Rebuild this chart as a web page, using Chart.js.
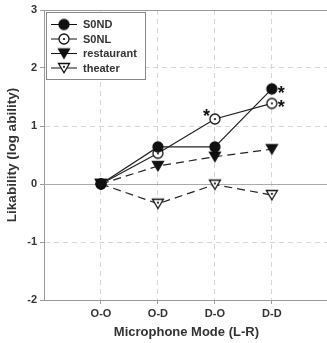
<!DOCTYPE html>
<html>
<head>
<meta charset="utf-8">
<script src="https://cdn.jsdelivr.net/npm/chart.js@4.4.0/dist/chart.umd.min.js"></script>
<style>
  html, body { margin: 0; padding: 0; background: #fff; overflow: hidden; }
  #wrap { width: 334px; height: 343px; }
</style>
</head>
<body>
<div id="wrap"><canvas id="chart" width="334" height="343"></canvas></div>
<script>
// --- data ---
const modes = ['O-O', 'O-D', 'D-O', 'D-D'];
const s0nd = [0, 0.64, 0.64, 1.64];
const s0nl = [0, 0.53, 1.12, 1.39];
const restaurant = [0, 0.31, 0.47, 0.60];
const theater = [0, -0.34, -0.01, -0.19];
const yTicks = [-2, -1, 0, 1, 2, 3];
// significance stars: [dataset, point, side]
const stars = [[1, 2, 'left'], [0, 3, 'right'], [1, 3, 'right']];

const INK = '#111';

// point markers as small canvases (dotted ones have a centre dot)
function marker(shape, filled, dot) {
    const c = document.createElement('canvas');
    c.width = 14; c.height = 14;
    const g = c.getContext('2d');
    g.fillStyle = filled ? INK : '#fff';
    g.strokeStyle = INK;
    g.lineWidth = 1.3;
    g.beginPath();
    if (shape === 'circle') {
        g.arc(7, 7, 5, 0, Math.PI * 2);
    } else {
        g.moveTo(1.5, 2.5); g.lineTo(12.5, 2.5); g.lineTo(7, 11.8); g.closePath();
    }
    g.fill(); g.stroke();
    if (dot) {
        g.fillStyle = INK;
        g.beginPath();
        g.arc(7, shape === 'circle' ? 7 : 5.8, 1.1, 0, Math.PI * 2);
        g.fill();
    }
    return c;
}

const series = [
    { label: 'S0ND', values: s0nd, mk: marker('circle', true, false), dash: [] },
    { label: 'S0NL', values: s0nl, mk: marker('circle', false, true), dash: [] },
    { label: 'restaurant', values: restaurant, mk: marker('tri', true, false), dash: [8, 5] },
    { label: 'theater', values: theater, mk: marker('tri', false, true), dash: [8, 5] },
];

// --- helpers drawn on top of the library's scales ---
const framePlugin = {
    id: 'frame',
    beforeDatasetsDraw(chart) {
        const { ctx, chartArea: a, scales: { y } } = chart;
        ctx.save();
        ctx.strokeStyle = '#aaa';
        ctx.lineWidth = 1;
        ctx.beginPath();
        const y0 = Math.round(y.getPixelForValue(0)) + 0.5;
        ctx.moveTo(a.left, y0); ctx.lineTo(a.right, y0);
        ctx.stroke();
        ctx.strokeStyle = '#999';
        ctx.beginPath();
        ctx.moveTo(a.left, a.top + 0.5); ctx.lineTo(a.right, a.top + 0.5);
        ctx.stroke();
        ctx.restore();
    }
};

const starPlugin = {
    id: 'stars',
    afterDatasetsDraw(chart) {
        const ctx = chart.ctx;
        ctx.save();
        ctx.font = 'bold 18px "Liberation Sans", Arial, sans-serif';
        ctx.fillStyle = INK;
        ctx.textBaseline = 'middle';
        stars.forEach(([d, p, side]) => {
            const pt = chart.getDatasetMeta(d).data[p];
            if (side === 'right') {
                ctx.textAlign = 'left';
                ctx.fillText('*', pt.x + 6, pt.y + 5);
            } else {
                ctx.textAlign = 'right';
                ctx.fillText('*', pt.x - 5, pt.y - 2);
            }
        });
        ctx.restore();
    }
};

const legendPlugin = {
    id: 'boxLegend',
    afterDraw(chart) {
        const ctx = chart.ctx;
        const a = chart.chartArea;
        const bx = a.left + 2, by = a.top + 2, bw = 99, bh = 67;
        ctx.save();
        ctx.fillStyle = '#fff';
        ctx.fillRect(bx, by, bw, bh);
        ctx.strokeStyle = '#888';
        ctx.lineWidth = 1;
        ctx.strokeRect(bx + 0.5, by + 0.5, bw, bh);
        ctx.font = 'bold 11px "Liberation Sans", Arial, sans-serif';
        ctx.textBaseline = 'middle';
        ctx.textAlign = 'left';
        series.forEach((s, i) => {
            const ry = by + 12.5 + i * 14.5;
            ctx.strokeStyle = INK;
            ctx.beginPath();
            ctx.moveTo(bx + 5, ry); ctx.lineTo(bx + 31, ry);
            ctx.stroke();
            ctx.drawImage(s.mk, bx + 18 - 7, ry - 7);
            ctx.fillStyle = '#333';
            ctx.fillText(s.label, bx + 37, ry + 0.5);
        });
        ctx.restore();
    }
};

Chart.defaults.font.family = '"Liberation Sans", Arial, sans-serif';
Chart.defaults.font.size = 11;
Chart.defaults.font.weight = 'bold';
Chart.defaults.color = '#333';

const ctx = document.getElementById('chart').getContext('2d');
new Chart(ctx, {
    type: 'line',
    data: {
        datasets: series.map(s => ({
            label: s.label,
            data: s.values.map((v, i) => ({ x: i + 1, y: v })),
            borderColor: '#222',
            borderWidth: 1.2,
            borderDash: s.dash,
            pointStyle: s.mk,
            fill: false,
            tension: 0
        }))
    },
    options: {
        responsive: false,
        animation: false,
        devicePixelRatio: 1,
        layout: { padding: { top: 10, left: 0, right: 0, bottom: 0 } },
        plugins: { legend: { display: false }, tooltip: { enabled: false } },
        scales: {
            x: {
                type: 'linear',
                min: 0, max: 5,
                afterBuildTicks: sc => { sc.ticks = [0, 1, 2, 3, 4, 5].map(v => ({ value: v })); },
                afterFit: sc => { sc.height = 43; },
                ticks: { callback: v => modes[v - 1] || '', maxRotation: 0, autoSkip: false, padding: 3 },
                grid: {
                    color: c => (c.tick && c.tick.value >= 1 && c.tick.value <= 4) ? '#d6d6d6' : 'rgba(0,0,0,0)',
                    tickColor: c => (c.tick && c.tick.value >= 1 && c.tick.value <= 4) ? '#999' : 'rgba(0,0,0,0)',
                    tickLength: 4
                },
                border: { color: '#999', width: 1, dash: [5, 4] },
                title: { display: true, text: 'Microphone Mode (L-R)', font: { size: 13, weight: 'bold' }, color: '#333', padding: { top: 4, bottom: 3 } }
            },
            y: {
                min: -2, max: 3,
                afterBuildTicks: sc => { sc.ticks = yTicks.map(v => ({ value: v })); },
                afterFit: sc => { sc.width = 44; },
                ticks: { padding: 3 },
                grid: {
                    color: c => (c.tick && (c.tick.value === 1 || c.tick.value === 2 || c.tick.value === -1)) ? '#d6d6d6' : 'rgba(0,0,0,0)',
                    tickColor: '#999',
                    tickLength: 4
                },
                border: { color: '#999', width: 1, dash: [5, 4] },
                title: { display: true, text: 'Likability (log ability)', font: { size: 13.5, weight: 'bold' }, color: '#333', padding: { top: 4, bottom: 4 } }
            }
        }
    },
    plugins: [framePlugin, starPlugin, legendPlugin]
});
</script>
</body>
</html>
